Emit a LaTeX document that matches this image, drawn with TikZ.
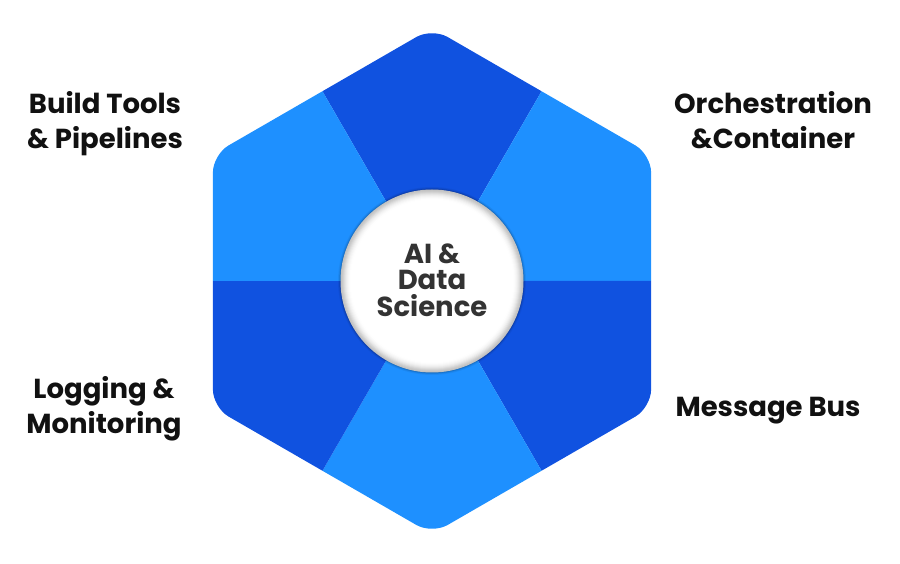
\documentclass[tikz,border=0pt]{standalone}
\usepackage{fontspec}
\setmainfont{Poppins}
\definecolor{darkseg}{HTML}{1052E0}
\definecolor{lightseg}{HTML}{1E90FF}
\definecolor{labeltext}{HTML}{111111}
\definecolor{centertext}{HTML}{333333}
\begin{document}
\begin{tikzpicture}[x=1pt,y=1pt,
  sidelabel/.style={font=\fontsize{27.5}{35}\selectfont\bfseries, text=labeltext, align=center, inner sep=0pt},
  centerlabel/.style={font=\fontsize{27.5}{26.5}\selectfont\bfseries, text=centertext, align=center, inner sep=0pt}]
\useasboundingbox (0,0) rectangle (900,563);
\begin{scope}[shift={(432,282)}]
  \begin{scope}
    \clip[rounded corners=18pt] (90:253) -- (150:253) -- (210:253) -- (270:253) -- (330:253) -- (30:253) -- cycle;
    \foreach \a/\col in {90/darkseg,30/lightseg,-30/darkseg,-90/lightseg,-150/darkseg,150/lightseg}
      \fill[\col] (0,0) -- (\a-30:320) -- (\a:400) -- (\a+30:320) -- cycle;
  \end{scope}
  \foreach \r/\o in {94/0.05,93/0.08,92.2/0.12}
    \fill[black,opacity=\o] (0,0) circle (\r);
  \foreach \r/\g in {91.5/24,90.5/22,89.5/19,88.5/15,87.5/11,86.5/8,85.5/5,84.5/3,83.5/1.5,82.5/0.5,81.5/0}
    \fill[black!\g] (0,0) circle (\r);
  \node[centerlabel] (core) at (0,1) {AI \&\\Data\\Science};
\end{scope}
\node[sidelabel] (build) at (105,439.5) {Build Tools\\\& Pipelines};
\node[sidelabel] (orch) at (773,443) {Orchestration\\\&Container};
\node[sidelabel] (log) at (104,154.5) {Logging \&\\Monitoring};
\node[sidelabel] (msg) at (768,152) {Message Bus};
\end{tikzpicture}
\end{document}
